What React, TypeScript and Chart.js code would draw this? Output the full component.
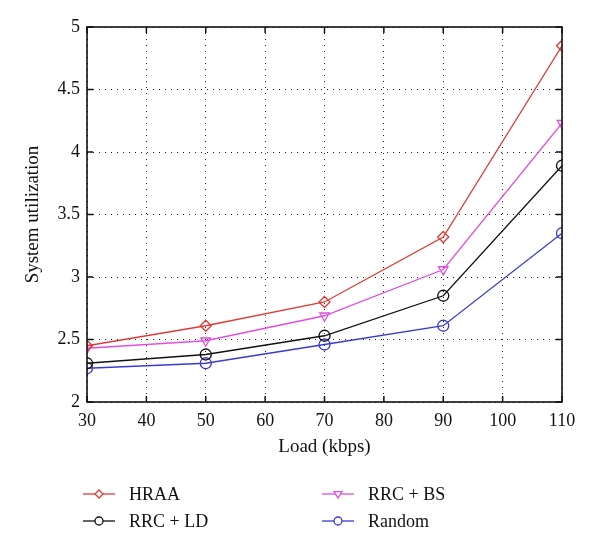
import React, { useEffect, useRef } from "react";
import { Chart, registerables } from "chart.js";

Chart.register(...registerables);

const loads = [30, 50, 70, 90, 110];
const hraa = [2.45, 2.61, 2.8, 3.32, 4.85];
const rrcBs = [2.43, 2.49, 2.69, 3.06, 4.23];
const rrcLd = [2.31, 2.38, 2.53, 2.85, 3.89];
const randomSel = [2.27, 2.31, 2.46, 2.61, 3.35];
const seriesNames = ["HRAA", "RRC + BS", "RRC + LD", "Random"];
const seriesColors = ["#e03a34", "#e04ee0", "#111111", "#3a3ad0"];
const seriesStyles = ["rectRot", "triangle", "circle", "circle"];
const seriesRotations = [0, 180, 0, 0];
const xTitle = "Load (kbps)";
const yTitle = "System utilization";
const xMin = 30;
const xMax = 110;
const xStep = 10;
const yMin = 2;
const yMax = 5;
const yStep = 0.5;

const FONT = "'Liberation Serif', 'DejaVu Serif', serif";

function drawMarker(ctx: CanvasRenderingContext2D, style: string, x: number, y: number, r: number) {
  ctx.beginPath();
  if (style === "rectRot") {
    ctx.moveTo(x, y - r);
    ctx.lineTo(x + r, y);
    ctx.lineTo(x, y + r);
    ctx.lineTo(x - r, y);
    ctx.closePath();
  } else if (style === "triangle") {
    ctx.moveTo(x - r, y - r * 0.6);
    ctx.lineTo(x + r, y - r * 0.6);
    ctx.lineTo(x, y + r);
    ctx.closePath();
  } else {
    ctx.arc(x, y, r, 0, Math.PI * 2);
  }
  ctx.fillStyle = "#ffffff";
  ctx.fill();
  ctx.stroke();
}

const framePlugin = {
  id: "frameTicks",
  afterDatasetsDraw(chart: any) {
    const { ctx, chartArea, scales } = chart;
    const { left, right, top, bottom } = chartArea;
    ctx.save();
    ctx.strokeStyle = "#111";
    ctx.lineWidth = 1.6;
    ctx.strokeRect(left, top, right - left, bottom - top);
    const tl = 6;
    ctx.lineWidth = 1.5;
    scales.x.ticks.forEach((t: any) => {
      const px = scales.x.getPixelForValue(t.value);
      ctx.beginPath();
      ctx.moveTo(px, bottom);
      ctx.lineTo(px, bottom - tl);
      ctx.moveTo(px, top);
      ctx.lineTo(px, top + tl);
      ctx.stroke();
    });
    scales.y.ticks.forEach((t: any) => {
      const py = scales.y.getPixelForValue(t.value);
      ctx.beginPath();
      ctx.moveTo(left, py);
      ctx.lineTo(left + tl, py);
      ctx.moveTo(right, py);
      ctx.lineTo(right - tl, py);
      ctx.stroke();
    });
    ctx.restore();
  },
};

const legendPlugin = {
  id: "customLegend",
  afterDraw(chart: any) {
    const { ctx } = chart;
    const cols = [83, 322];
    const rows = [494, 521];
    const order = [0, 1, 2, 3];
    ctx.save();
    order.forEach((di, i) => {
      const cx = cols[i % 2];
      const cy = rows[Math.floor(i / 2)];
      ctx.strokeStyle = seriesColors[di];
      ctx.lineWidth = 1.3;
      ctx.beginPath();
      ctx.moveTo(cx, cy);
      ctx.lineTo(cx + 32, cy);
      ctx.stroke();
      drawMarker(ctx, seriesStyles[di], cx + 16, cy, 4);
      ctx.fillStyle = "#111";
      ctx.font = `18px ${FONT}`;
      ctx.textBaseline = "middle";
      ctx.textAlign = "left";
      ctx.fillText(seriesNames[di], cx + 46, cy + 1);
    });
    ctx.restore();
  },
};

export default function App() {
  const ref = useRef<HTMLCanvasElement | null>(null);
  useEffect(() => {
    if (!ref.current) return;
    const series = [hraa, rrcBs, rrcLd, randomSel];
    const chart = new Chart(ref.current, {
      type: "line",
      data: {
        datasets: series.map((vals, i) => ({
          label: seriesNames[i],
          data: loads.map((x, j) => ({ x, y: vals[j] })),
          borderColor: seriesColors[i],
          backgroundColor: "transparent",
          borderWidth: 1.3,
          pointStyle: seriesStyles[i] as any,
          pointRotation: seriesRotations[i],
          pointRadius: 5.5,
          pointBorderWidth: 1.3,
          pointBorderColor: seriesColors[i],
          pointBackgroundColor: "rgba(0,0,0,0)",
          tension: 0,
          fill: false,
        })),
      },
      options: {
        animation: false,
        responsive: false,
        maintainAspectRatio: false,
        layout: { padding: { top: 27, right: 38, bottom: 89, left: 0 } },
        plugins: { legend: { display: false }, tooltip: { enabled: false } },
        scales: {
          x: {
            type: "linear",
            min: xMin,
            max: xMax,
            ticks: {
              stepSize: xStep,
              color: "#111",
              font: { family: FONT, size: 18 },
              padding: 8,
              callback: (v: any) => String(v),
            },
            grid: { color: "#222", drawTicks: false },
            border: { display: false, dash: [1, 5] },
            title: { display: true, text: xTitle, color: "#111", font: { family: FONT, size: 19 }, padding: { top: 0, bottom: 4 } },
            afterFit(scale: any) {
              scale.height = 60;
            },
          } as any,
          y: {
            type: "linear",
            min: yMin,
            max: yMax,
            ticks: {
              stepSize: yStep,
              color: "#111",
              font: { family: FONT, size: 18 },
              padding: 7,
              callback: (v: any) => String(v),
            },
            grid: { color: "#222", drawTicks: false },
            border: { display: false, dash: [1, 5] },
            title: { display: true, text: yTitle, color: "#111", font: { family: FONT, size: 19 }, padding: { top: 22, bottom: 0 } },
            afterFit(scale: any) {
              scale.width = 87;
            },
          } as any,
        },
      },
      plugins: [framePlugin, legendPlugin],
    });
    return () => chart.destroy();
  }, []);
  return (
    <div style={{ position: "fixed", left: 0, top: 0, width: 600, height: 551, background: "#fff" }}>
      <canvas ref={ref} width={600} height={551} style={{ display: "block" }} />
    </div>
  );
}
